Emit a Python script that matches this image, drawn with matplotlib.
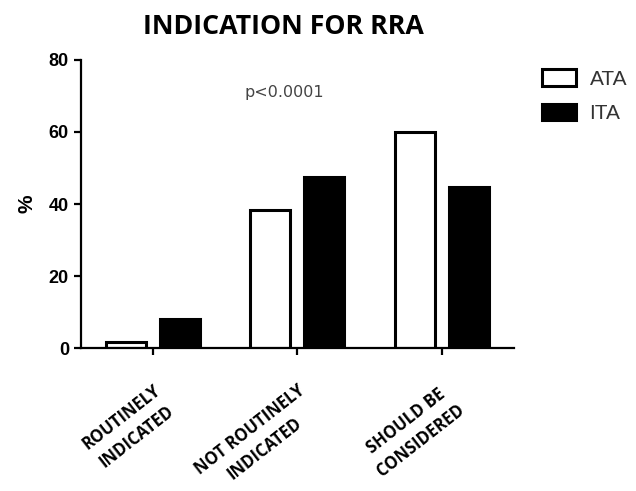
import matplotlib
matplotlib.use("Agg")
import matplotlib.pyplot as plt
import matplotlib.transforms as mtransforms
import numpy as np

categories = ["ROUTINELY\nINDICATED", "NOT ROUTINELY\nINDICATED", "SHOULD BE\nCONSIDERED"]
ata = [1.6, 38.2, 59.9]
ita = [8.2, 47.6, 44.7]

fig = plt.figure(figsize=(6.36, 4.91), dpi=100)
ax = fig.add_axes([0.127, 0.291, 0.681, 0.587])

x = np.arange(len(categories))
w = 0.278
off = 0.1875
ax.bar(x - off, ata, w, color="white", edgecolor="black", linewidth=2.2, label="ATA")
ax.bar(x + off, ita, w, color="black", edgecolor="black", linewidth=2.2, label="ITA")

ax.set_xlim(-0.5, 2.5)
ax.set_ylim(0, 80)
ax.set_yticks([0, 20, 40, 60, 80])
ax.set_xticks(x)
ax.set_xticklabels(categories, rotation=38, ha="right", va="top", rotation_mode="anchor",
                   multialignment="center", linespacing=1.45,
                   fontfamily="Open Sans", fontweight="bold", fontsize=12)
shift = mtransforms.ScaledTranslation(11 / 100, 0, fig.dpi_scale_trans)
for lab in ax.get_xticklabels():
    lab.set_transform(lab.get_transform() + shift)
for lab in ax.get_yticklabels():
    lab.set_fontfamily("Liberation Sans")
    lab.set_fontweight("bold")
    lab.set_fontsize(13)

for s in ["top", "right"]:
    ax.spines[s].set_visible(False)
for s in ["left", "bottom"]:
    ax.spines[s].set_linewidth(1.6)
ax.tick_params(axis="both", width=1.6, length=5, direction="out")
ax.tick_params(axis="x", pad=19)

ax.set_ylabel("%", fontfamily="Liberation Sans", fontweight="bold", fontsize=15, labelpad=9)
fig.text(0.445, 0.945, "INDICATION FOR RRA", ha="center", va="center",
         fontfamily="Open Sans", fontweight="bold", fontsize=19.3)
ax.text(0.91, 70.9, "p<0.0001", ha="center", va="center", fontsize=11.5, color="#444444")

ax.legend(loc="upper left", bbox_to_anchor=(0.822, 0.897), bbox_transform=fig.transFigure,
          frameon=False, prop={"family": "Liberation Sans", "size": 15}, labelcolor="#333333",
          handlelength=1.65, handleheight=0.85, handletextpad=0.65, labelspacing=0.72)

fig.savefig("out.png", dpi=100)
